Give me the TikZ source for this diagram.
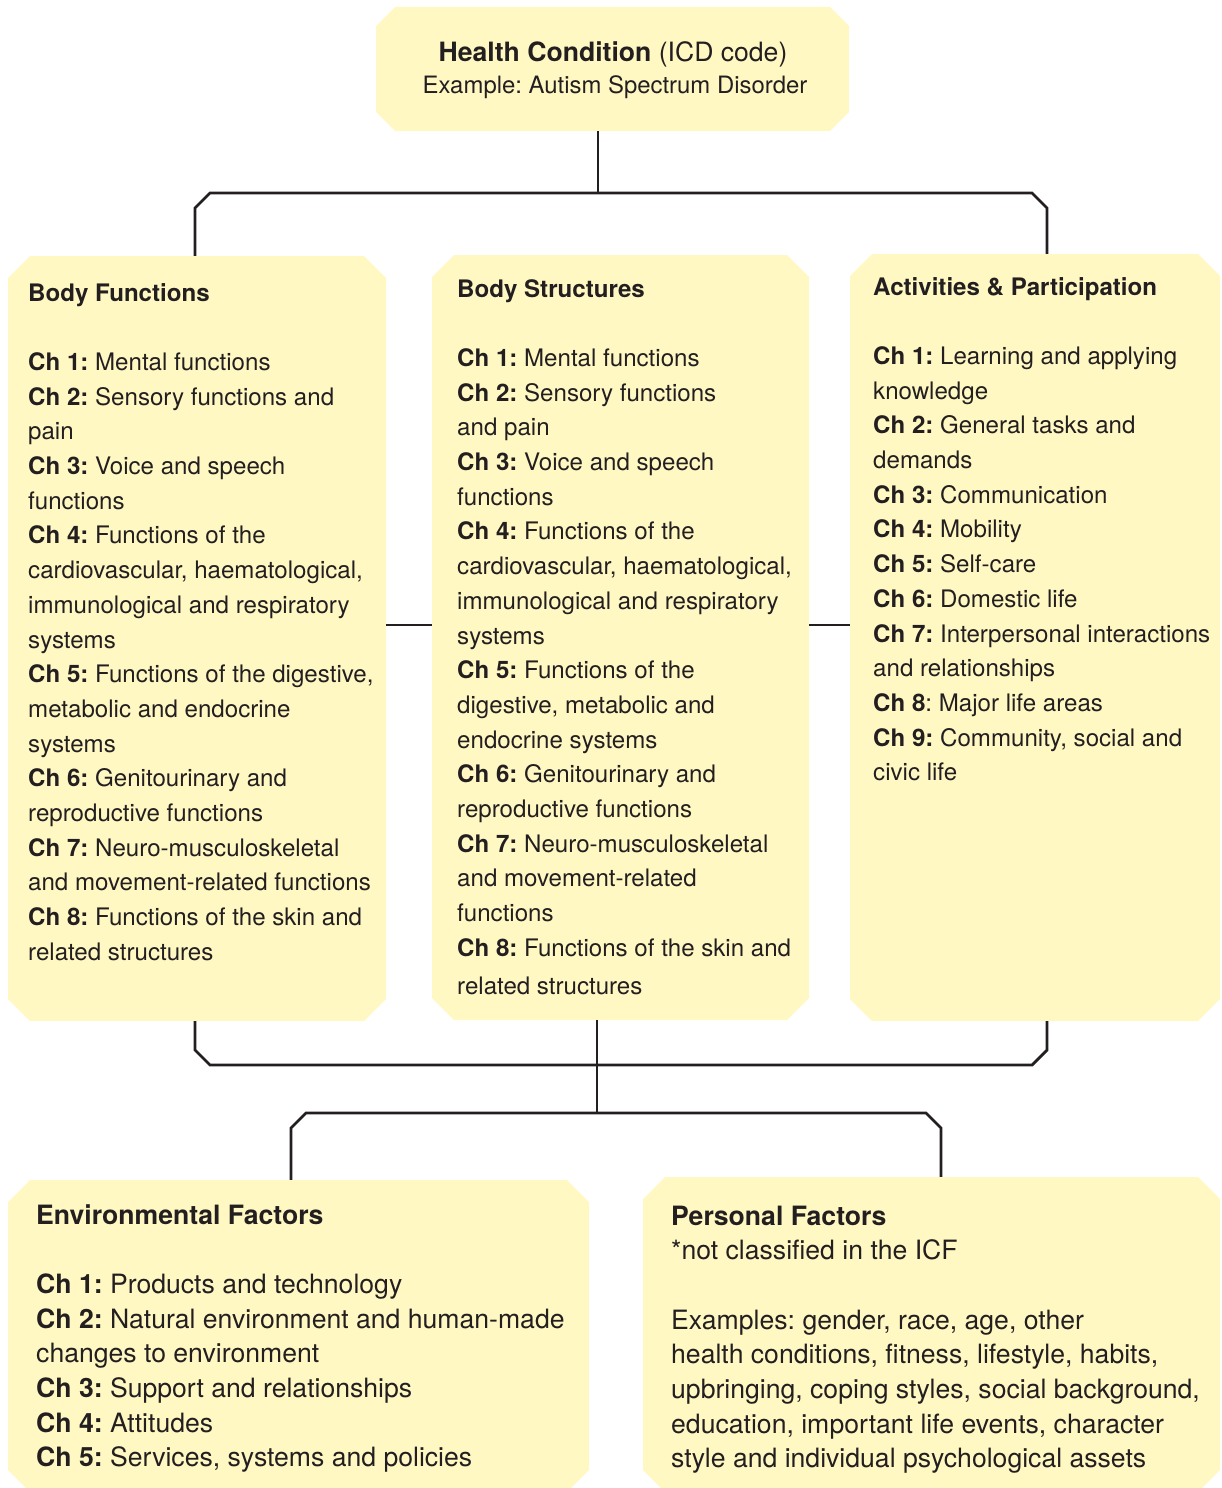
\documentclass[tikz,border=0pt]{standalone}
\usepackage{fontspec}
\setmainfont{TeX Gyre Heros}
\usetikzlibrary{calc}
\definecolor{boxfill}{HTML}{FFF8C3}
\definecolor{ink}{HTML}{231F20}
\frenchspacing
% name, x1, y1, x2, y2, chamfer
\newcommand\cbox[6]{%
  \fill[boxfill] (#2+#6,#3) -- (#4-#6,#3) -- (#4,#3+#6) -- (#4,#5-#6) -- (#4-#6,#5) -- (#2+#6,#5) -- (#2,#5-#6) -- (#2,#3+#6) -- cycle;
  \node[inner sep=0,minimum width={#4-#2},minimum height={#5-#3}] (#1) at ({(#2+#4)/2},{(#3+#5)/2}) {};}
\newcommand\chl[1]{\textbf{Ch #1:}}
\newcommand\colfont{\fontsize{24.1}{34.7}\selectfont}
\newcommand\bigfont{\fontsize{26.6}{34.7}\selectfont}
\begin{document}
\frenchspacing
\begin{tikzpicture}[x=1pt,y=-1pt,
  conn/.style={draw=ink,line width=2.8pt,line join=miter},
  txt/.style={anchor=base west,inner sep=0,text=ink}]
\useasboundingbox (0,0) rectangle (1221,1488);

% boxes
\cbox{hc}{376}{7}{849}{131}{19}
\cbox{bf}{8}{256}{386}{1021}{22}
\cbox{bs}{432}{255}{809}{1020}{22}
\cbox{ap}{850}{254}{1220}{1021}{22}
\cbox{ef}{8}{1180}{589}{1492}{22}
\cbox{pf}{643}{1177}{1220}{1492}{22}

% connector coordinates
\coordinate (tl) at (195,193);
\coordinate (tm) at (598,193);
\coordinate (tr) at (1047,193);
\coordinate (bl) at (195,1065);
\coordinate (bm) at (597,1065);
\coordinate (br) at (1047,1065);
\coordinate (ll) at (291,1113);
\coordinate (lm) at (597,1113);
\coordinate (lr) at (941,1113);
\coordinate (mid) at (0,625);

% top connectors
\draw[conn] (hc.south -| tm) -- (tm);
\draw[conn] (bf.north -| tl) -- ($(tl)+(0,15)$) -- ($(tl)+(15,0)$) -- ($(tr)+(-15,0)$) -- ($(tr)+(0,15)$) -- (ap.north -| tr);
% side links
\draw[conn] (bf.east |- mid) -- (bs.west |- mid);
\draw[conn] (bs.east |- mid) -- (ap.west |- mid);
% bottom connectors
\draw[conn] (bf.south -| bl) -- ($(bl)+(0,-15)$) -- ($(bl)+(15,0)$) -- ($(br)+(-15,0)$) -- ($(br)+(0,-15)$) -- (ap.south -| br);
\draw[conn] (bs.south -| bm) -- (lm);
\draw[conn] (ef.north -| ll) -- ($(ll)+(0,15)$) -- ($(ll)+(15,0)$) -- ($(lr)+(-15,0)$) -- ($(lr)+(0,15)$) -- (pf.north -| lr);

% health condition
\node[anchor=base,inner sep=0,text=ink,font=\bigfont] (hc1) at (613,61.5) {\textbf{Health Condition} (ICD code)};
\node[anchor=base,inner sep=0,text=ink,font=\fontsize{23.9}{30}\selectfont] (hc2) at (615,93) {Example: Autism Spectrum Disorder};

% body functions
\node[txt,font=\colfont] (bft) at (28,301) {\parbox[t]{600pt}{\raggedright
\textbf{Body Functions}\\[34.7pt]
\chl{1} Mental functions\\
\chl{2} Sensory functions and\\
pain\\
\chl{3} Voice and speech\\
functions\\
\chl{4} Functions of the\\
cardiovascular, haematological,\\
immunological and respiratory\\
systems\\
\chl{5} Functions of the digestive,\\
metabolic and endocrine\\
systems\\
\chl{6} Genitourinary and\\
reproductive functions\\
\chl{7} Neuro-musculoskeletal\\
and movement-related functions\\
\chl{8} Functions of the skin and\\
related structures}};

% body structures
\node[txt,font=\colfont] (bst) at (457,297) {\parbox[t]{600pt}{\raggedright
\textbf{Body Structures}\\[34.7pt]
\chl{1} Mental functions\\
\chl{2} Sensory functions\\
and pain\\
\chl{3} Voice and speech\\
functions\\
\chl{4} Functions of the\\
cardiovascular, haematological,\\
immunological and respiratory\\
systems\\
\chl{5} Functions of the\\
digestive, metabolic and\\
endocrine systems\\
\chl{6} Genitourinary and\\
reproductive functions\\
\chl{7} Neuro-musculoskeletal\\
and movement-related\\
functions\\
\chl{8} Functions of the skin and\\[3pt]
related structures}};

% activities and participation
\node[txt,font=\colfont] (apt) at (873,295) {\parbox[t]{600pt}{\raggedright
\textbf{Activities \& Participation}\\[34.7pt]
\chl{1} Learning and applying\\
knowledge\\
\chl{2} General tasks and\\
demands\\
\chl{3} Communication\\
\chl{4} Mobility\\
\chl{5} Self-care\\
\chl{6} Domestic life\\
\chl{7} Interpersonal interactions\\
and relationships\\
\textbf{Ch 8}: Major life areas\\
\chl{9} Community, social and\\
civic life}};

% environmental factors
\node[txt,font=\bigfont] (eft) at (36,1224) {\parbox[t]{700pt}{\raggedright
\textbf{Environmental Factors}\\[34.7pt]
\chl{1} Products and technology\\
\chl{2} Natural environment and human-made\\
changes to environment\\
\chl{3} Support and relationships\\
\chl{4} Attitudes\\
\chl{5} Services, systems and policies}};

% personal factors
\node[txt,font=\bigfont] (pft) at (671,1225) {\parbox[t]{700pt}{\raggedright
\textbf{Personal Factors}\\\relax
{*}not classified in the ICF\\[34.7pt]
Examples: gender, race, age, other\\
health conditions, fitness, lifestyle, habits,\\
upbringing, coping styles, social background,\\
education, important life events, character\\
style and individual psychological assets}};
\end{tikzpicture}
\end{document}
